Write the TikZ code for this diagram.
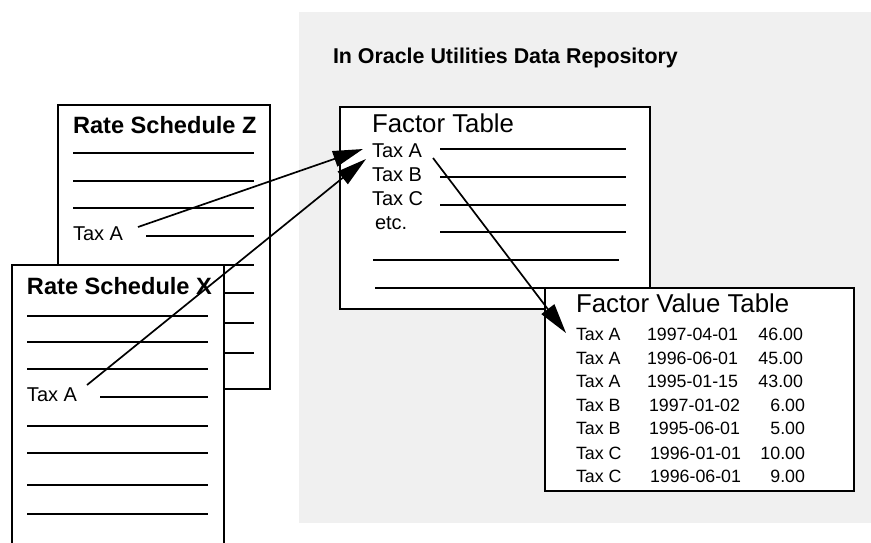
\documentclass[tikz,border=0pt]{standalone}
\usepackage{fontspec}
\setmainfont{Liberation Sans}
\usetikzlibrary{arrows.meta}

\definecolor{repogray}{HTML}{F0F0F0}

\tikzset{
  page/.style={draw=black, line width=2pt, fill=white},
  rule/.style={line width=1.8pt},
  lbl/.style={anchor=base west, inner sep=0pt, outer sep=0pt},
  rlbl/.style={anchor=base east, inner sep=0pt, outer sep=0pt},
  rstitle/.style={lbl, font=\fontsize{23.6}{26}\selectfont\bfseries},
  tabtitle/.style={lbl, font=\fontsize{25.8}{28}\selectfont},
  taxlbl/.style={lbl, font=\fontsize{20}{22}\selectfont},
  cell/.style={font=\fontsize{17.8}{20}\selectfont},
  link/.style={line width=1.7pt, -{Triangle[length=30pt,width=16pt]}},
}

\begin{document}
\begin{tikzpicture}[x=1pt, y=-1pt]
  \useasboundingbox (0,0) rectangle (871,542);
  \clip (0,0) rectangle (871,542);

  % repository area
  \fill[repogray] (299,12) rectangle (875,523);
  \node[lbl, font=\fontsize{21.4}{24}\selectfont\bfseries] (repo) at (333,63)
    {In Oracle Utilities Data Repository};

  % Rate Schedule Z
  \node[page, anchor=north west, minimum width=212pt, minimum height=284pt,
        inner sep=0pt] (zbox) at (57,104) {};
  \foreach \yy in {153,181,208,265,293,323,353}
    \draw[rule] (73,\yy) -- (254,\yy);
  \draw[rule] (146,236) -- (254,236);
  \node[rstitle] (ztitle) at (73,133) {Rate Schedule Z};
  \node[taxlbl] (ztax) at (73,240) {Tax A};

  % Rate Schedule X (runs past the lower edge)
  \node[page, anchor=north west, minimum width=212pt, minimum height=320pt,
        inner sep=0pt] (xbox) at (11,264) {};
  \foreach \yy in {316,342,369,426,453,485,514}
    \draw[rule] (27,\yy) -- (208,\yy);
  \draw[rule] (100,397) -- (208,397);
  \node[rstitle] (xtitle) at (27,294) {Rate Schedule X};
  \node[taxlbl] (xtax) at (27,401) {Tax A};

  % Factor Table
  \node[page, anchor=north west, minimum width=310pt, minimum height=202pt,
        inner sep=0pt] (fbox) at (339,106) {};
  \foreach \yy in {149,177,205,232}
    \draw[rule] (440,\yy) -- (626,\yy);
  \draw[rule] (373,260) -- (619,260);
  \draw[rule] (375,288) -- (619,288);
  \node[tabtitle] (ftitle) at (372,132) {Factor Table};
  \node[taxlbl] (fa) at (372,157) {Tax A};
  \node[taxlbl] (fb) at (372,181) {Tax B};
  \node[taxlbl] (fc) at (372,205) {Tax C};
  \node[taxlbl] (fetc) at (375,229) {etc.};

  % Factor Value Table
  \node[page, anchor=north west, minimum width=309pt, minimum height=203pt,
        inner sep=0pt] (vbox) at (544,287) {};
  \node[tabtitle] (vtitle) at (576,312) {Factor Value Table};
  \foreach \n/\yy/\tax/\dx/\date/\vx/\val in {
      1/340/Tax A/647/1997-04-01/803/46.00,
      2/364/Tax A/647/1996-06-01/803/45.00,
      3/387/Tax A/647/1995-01-15/803/43.00,
      4/411/Tax B/649/1997-01-02/805/6.00,
      5/434/Tax B/649/1995-06-01/805/5.00,
      6/459/Tax C/650/1996-01-01/805/10.00,
      7/482/Tax C/650/1996-06-01/805/9.00} {
    \node[lbl, cell] (vt\n) at (576,\yy) {\tax};
    \node[lbl, cell] (vd\n) at (\dx,\yy) {\date};
    \node[rlbl, cell] (vv\n) at (\vx,\yy) {\val};
  }

  % connector end points
  \coordinate (zs) at (138,227);
  \coordinate (xs) at (87,385);
  \coordinate (fs) at (433,158);
  \coordinate (fin1) at (363,149);
  \coordinate (fin2) at (366,159);
  \coordinate (vin) at (566,333);

  % connectors
  \draw[link] (zs) -- (fin1);
  \draw[link] (xs) -- (fin2);
  \draw[link] (fs) -- (vin);
\end{tikzpicture}
\end{document}
